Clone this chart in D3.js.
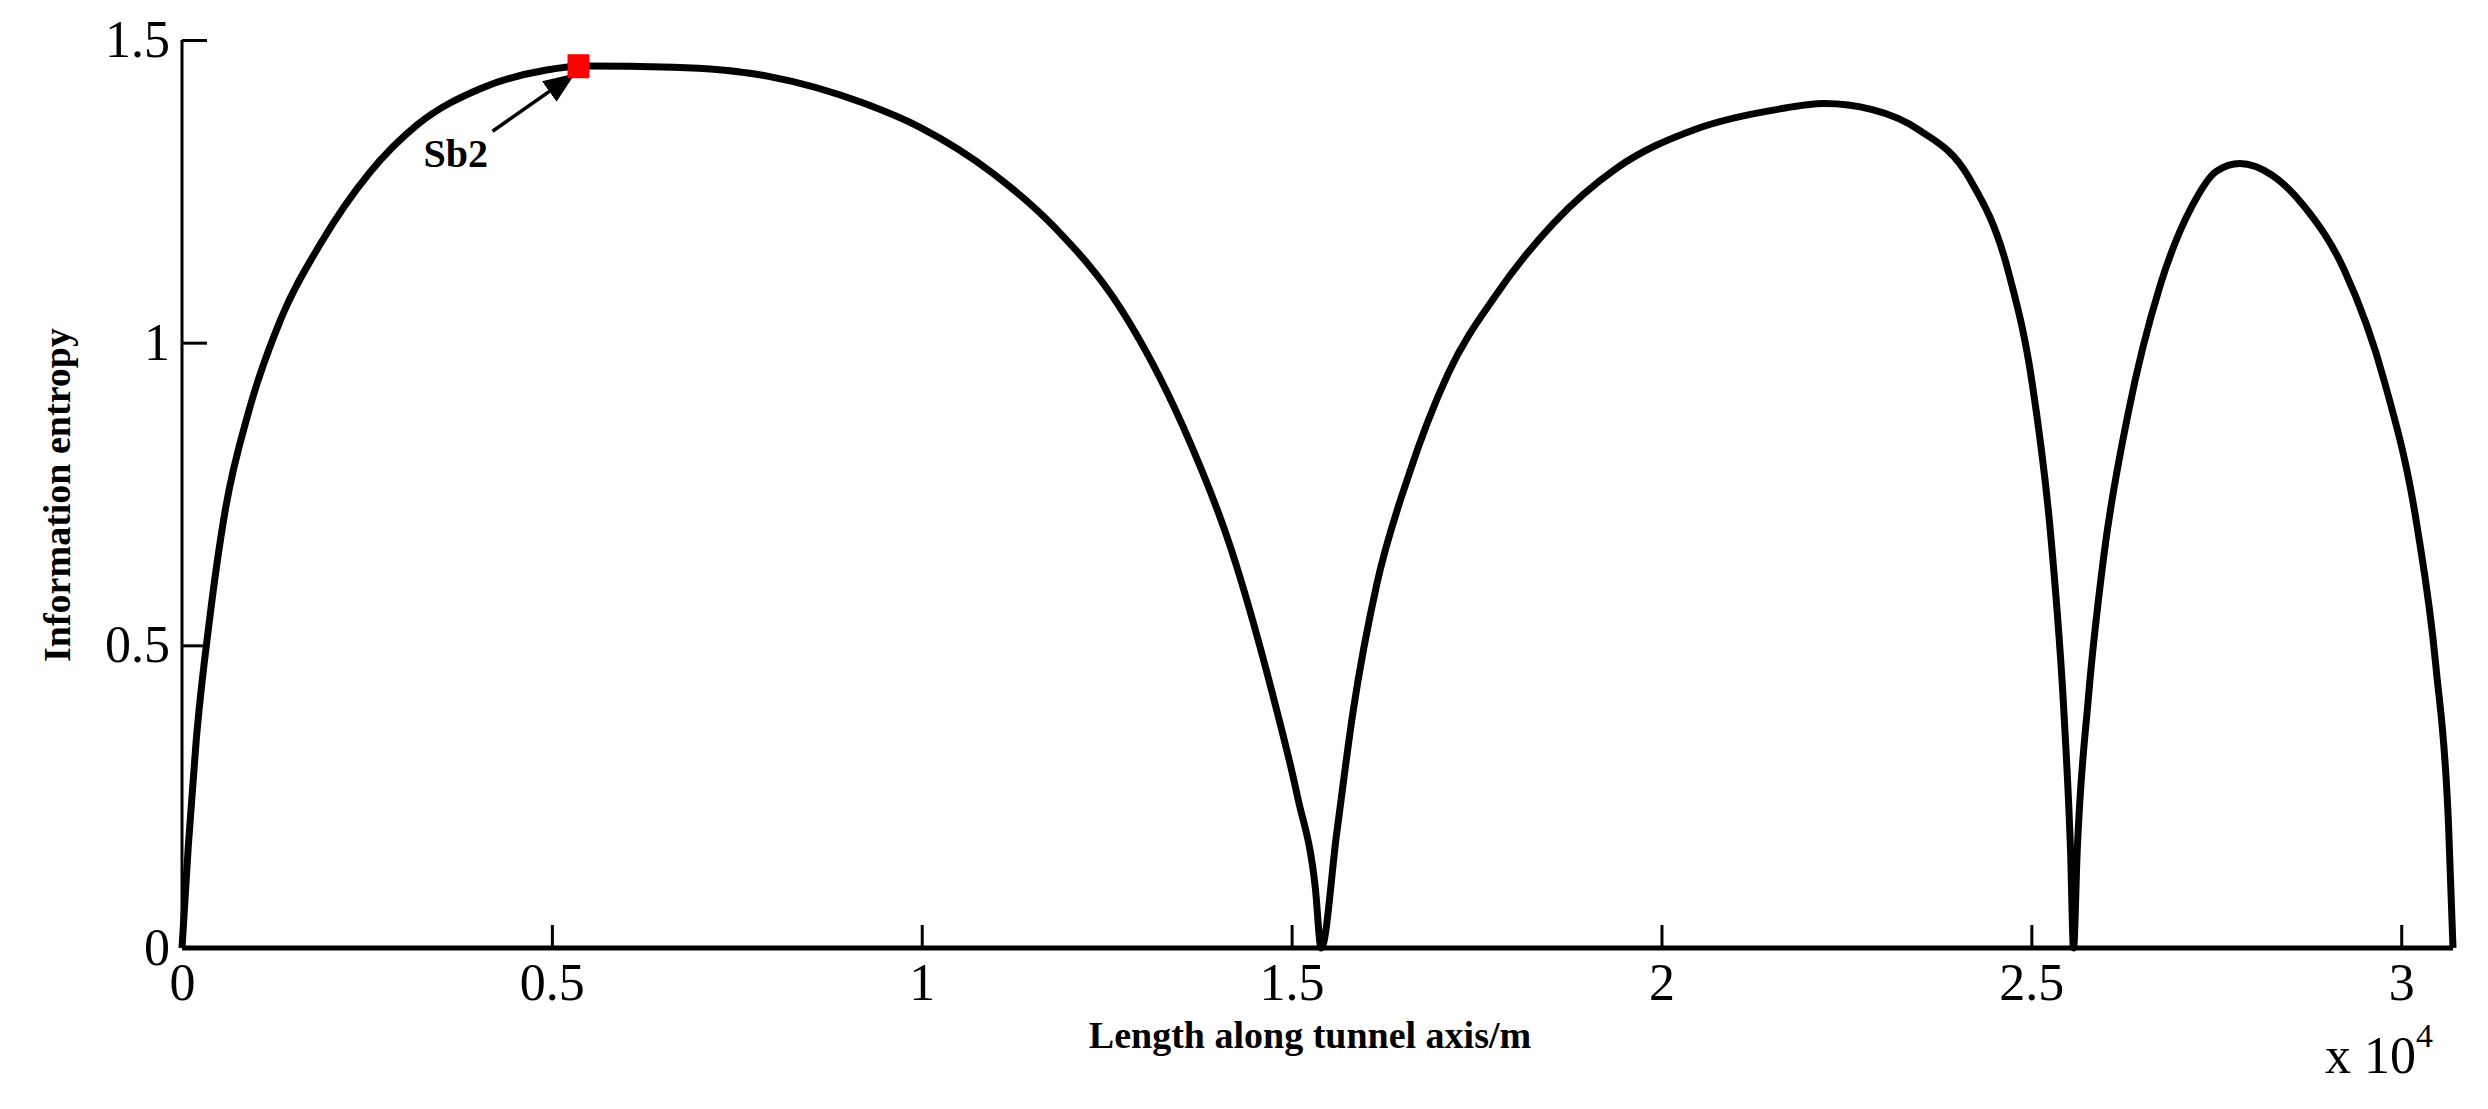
<!DOCTYPE html>
<html><head><meta charset="utf-8">
<script src="https://cdn.jsdelivr.net/npm/d3@7"></script>
<style>body{margin:0;background:#fff}text{font-family:"Liberation Serif","Times New Roman",serif}</style>
</head><body>
<script>
// x in units of 1e4 m
var lengthX = [0,0.0086,0.019,0.037,0.058,0.091,0.134,0.188,0.253,0.318,0.404,0.491,0.545,0.664,0.793,0.923,0.999,1.096,1.18,1.267,1.353,1.418,1.472,1.508,1.532,1.54,
  1.561,1.583,1.615,1.658,1.712,1.777,1.853,1.939,2.047,2.155,2.22,2.285,2.35,2.415,2.469,2.501,2.527,2.544,2.553,2.557,
  2.562,2.577,2.598,2.631,2.674,2.717,2.75,2.782,2.825,2.869,2.923,2.977,3.021,3.047,3.064,3.07];
var entropy = [0,0.17,0.34,0.54,0.72,0.89,1.04,1.165,1.28,1.36,1.42,1.45,1.457,1.455,1.44,1.395,1.355,1.28,1.19,1.06,0.862,0.66,0.43,0.25,0.1,0,
  0.19,0.39,0.6,0.78,0.95,1.08,1.196,1.288,1.353,1.385,1.395,1.385,1.35,1.274,1.117,0.934,0.671,0.39,0.16,0,
  0.16,0.412,0.648,0.884,1.094,1.225,1.283,1.296,1.277,1.225,1.12,0.937,0.7,0.464,0.202,0];
var xTicks = [0,0.5,1,1.5,2,2.5,3];
var yTicks = [0,0.5,1,1.5];
var marker = {x:0.536, y:1.455, label:"Sb2"};

var W = 2488, H = 1109;
var x = d3.scaleLinear().domain([0,3.07]).range([182,2453]);
var y = d3.scaleLinear().domain([0,1.5]).range([948,40]);

var svg = d3.select("body").append("svg").attr("width",W).attr("height",H);

// axes: ticks point inward
var xAxis = d3.axisBottom(x).tickValues(xTicks).tickSize(-23).tickPadding(20).tickFormat(d3.format("~g"));
var gx = svg.append("g").attr("transform","translate(0,948)").call(xAxis);
gx.select(".domain").attr("stroke-width",5).attr("d","M182,0H2453");
gx.selectAll(".tick line").attr("stroke-width",3);
gx.selectAll(".tick text").attr("font-size",52).attr("dy","0.62em");

var yAxis = d3.axisLeft(y).tickValues(yTicks).tickSize(-25).tickPadding(12).tickFormat(d3.format("~g"));
var gy = svg.append("g").attr("transform","translate(182,0)").call(yAxis);
gy.select(".domain").attr("stroke-width",3).attr("d","M0,40V948");
gy.selectAll(".tick line").attr("stroke-width",3);
gy.selectAll(".tick text").attr("font-size",52);

svg.append("path").datum(lengthX.map(function(d,i){return [d,entropy[i]];}))
  .attr("fill","none").attr("stroke","#000").attr("stroke-width",7).attr("stroke-linejoin","round")
  .attr("d", d3.line().x(function(d){return x(d[0]);}).y(function(d){return y(d[1]);}).curve(d3.curveMonotoneX));

// annotation
svg.append("defs").append("marker").attr("id","ah").attr("viewBox","0 0 10 10").attr("refX",9).attr("refY",5)
  .attr("markerWidth",9).attr("markerHeight",9).attr("orient","auto")
  .append("path").attr("d","M0,1L10,5L0,9z").attr("fill","#000");
svg.append("line").attr("x1",x(marker.x)-86).attr("y1",y(marker.y)+64).attr("x2",x(marker.x)-6).attr("y2",y(marker.y)+8)
  .attr("stroke","#000").attr("stroke-width",3.5).attr("marker-end","url(#ah)");
svg.append("rect").attr("x",x(marker.x)-11).attr("y",y(marker.y)-13).attr("width",22).attr("height",24).attr("fill","#f00");
svg.append("text").attr("x",x(marker.x)-155).attr("y",y(marker.y)+100).attr("font-size",40).attr("font-weight","bold").text(marker.label);

svg.append("text").attr("x",1310).attr("y",1048).attr("text-anchor","middle").attr("font-size",38).attr("font-weight","bold")
  .text("Length along tunnel axis/m");
svg.append("text").attr("transform","translate(70,495) rotate(-90)").attr("text-anchor","middle").attr("font-size",38).attr("font-weight","bold")
  .text("Information entropy");
var ex = svg.append("text").attr("x",2325).attr("y",1073).attr("font-size",52);
ex.append("tspan").text("x 10");
ex.append("tspan").attr("font-size",34).attr("dy",-26).text("4");
</script>
</body></html>
